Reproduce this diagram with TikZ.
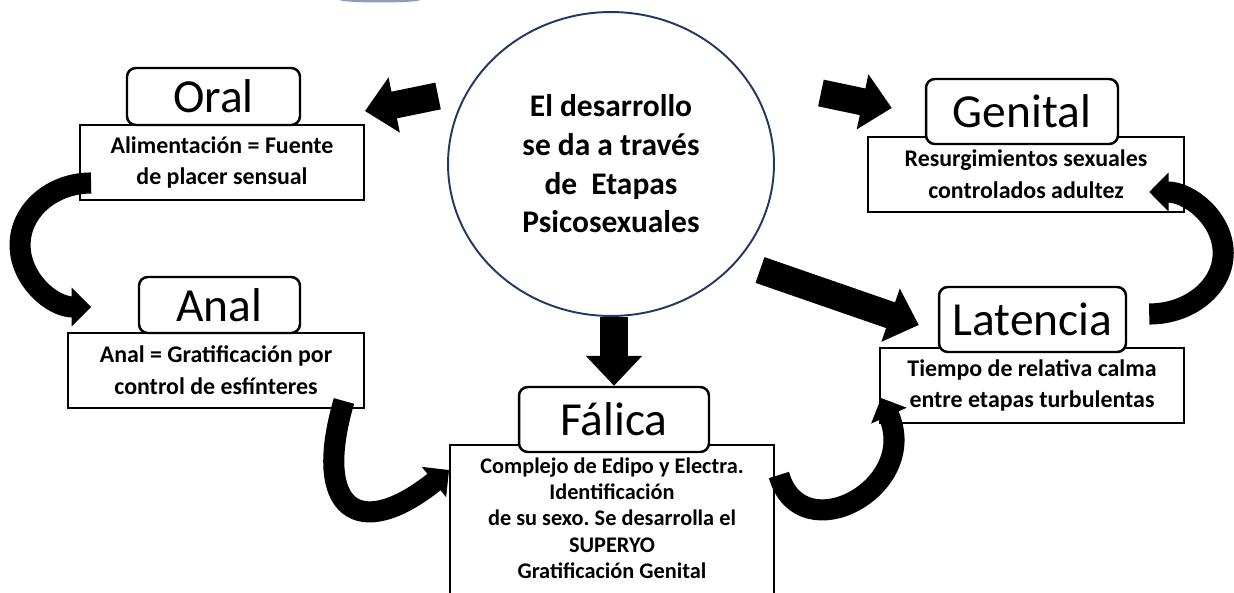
\documentclass[tikz,border=0pt]{standalone}
\usepackage{fontspec}
\setmainfont{Carlito}
\frenchspacing
\usetikzlibrary{shapes.geometric,arrows.meta,calc,positioning}
\definecolor{circblue}{RGB}{32,56,100}
\definecolor{smearblue}{RGB}{140,155,190}
\tikzset{
  titlebox/.style={draw, fill=white, rounded corners=5pt, line width=1.4pt, inner sep=0pt, font=\fontsize{27}{30}\selectfont},
  descbox/.style={draw, line width=1.1pt, inner sep=0pt, align=center, font=\fontsize{13.6}{18}\selectfont\bfseries},
  bigarrow/.style={line width=15.5pt, -{Triangle[length=17pt, width=31pt]}},
  curvearrow/.style={line width=12pt, -{Triangle[length=11pt, width=21.5pt]}}
}
\begin{document}
\begin{tikzpicture}[x=0.02cm, y=0.02cm]
  \useasboundingbox (0,0) rectangle (1234,592);
  \fill[smearblue] (380,592) ellipse [x radius=40, y radius=2.5];

  % Central idea
  \node[draw=circblue, line width=1.1pt, ellipse, minimum width=6.52cm, minimum height=6.08cm, align=center,
        font=\fontsize{17.9}{22}\selectfont\bfseries] (circ) at (611,428)
        {El desarrollo\\se da a través\\de\ \ Etapas\\Psicosexuales};

  % Description boxes
  \node[descbox, minimum width=5.68cm, minimum height=1.5cm] (oralD) at (222,429.5) {Alimentación = Fuente\\de placer sensual};
  \node[descbox, minimum width=5.92cm, minimum height=1.5cm] (analD) at (216,221.5) {Anal = Gratificación por\\control de esfínteres};
  \node[descbox, minimum width=6.48cm, minimum height=3.2cm, anchor=north] (falD) at (612,148) {};
  \node[descbox, draw=none, below=0.26cm of falD.north, font=\fontsize{12.7}{14.9}\selectfont\bfseries] (falTxt)
        {Complejo de Edipo y Electra.\\Identificación\\de su sexo. Se desarrolla el\\SUPERYO\\Gratificación Genital};
  \node[descbox, minimum width=6.32cm, minimum height=1.5cm] (genD) at (1026,417.5) {Resurgimientos sexuales\\controlados adultez};
  \node[descbox, minimum width=6.08cm, minimum height=1.5cm] (latD) at (1032,206.5) {Tiempo de relativa calma\\entre etapas turbulentas};

  % Stage titles
  \node[titlebox, minimum width=3.46cm, minimum height=1.14cm] (oralT) at (213.5,495.5) {Oral};
  \node[titlebox, minimum width=3.22cm, minimum height=1.12cm] (analT) at (219.5,287) {Anal};
  \node[titlebox, minimum width=3.80cm, minimum height=1.30cm] (falT) at (614,172.5) {Fálica};
  \node[titlebox, minimum width=3.84cm, minimum height=1.30cm] (genT) at (1022,480.5) {Genital};
  \node[titlebox, minimum width=3.74cm, minimum height=1.30cm] (latT) at (1032.5,272.5) {Latencia};

  % Arrows out of the centre
  \draw[bigarrow] ($(circ.west)+(-9,68)$) -- ($(oralD.north east)+(0,13)$);
  \draw[bigarrow] ($(circ.east)+(46,71)$) -- ($(genT.west)+(-33,3.5)$);
  \draw[bigarrow] ($(circ.center)+(149,-106)$) -- ($(latT.west)+(-19,-5.5)$);
  \draw[bigarrow] (circ.south -| falT.north) -- (falT.north);

  % Curved arrows between stages
  \draw[curvearrow] ($(oralD.west)+(12,-20.5)$) arc[start angle=90, end angle=270, x radius=71, y radius=62];
  \draw[curvearrow] ($(analD.south east)+(-21,8)$) .. controls +(-32,-110) and +(-90,-72) .. ($(falD.north west)+(0,-26)$);
  \draw[curvearrow] ($(falD.north east)+(4,-31)$) .. controls +(22,-77) and +(40,-90) .. ($(latD.west)+(2,-12.5)$);
  \draw[curvearrow] ($(latT.east)+(22,5.5)$) arc[start angle=-90, end angle=90, x radius=74, y radius=61];
\end{tikzpicture}
\end{document}
